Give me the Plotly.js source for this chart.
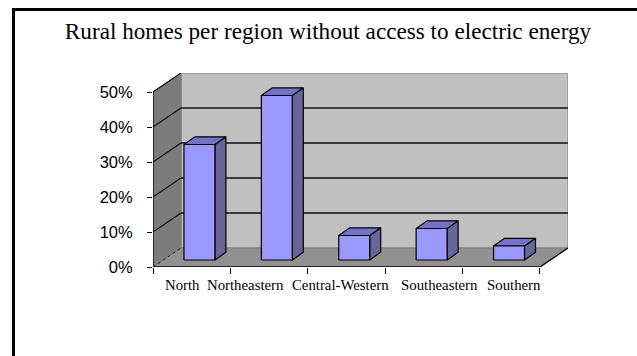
<!DOCTYPE html>
<html>
<head>
<meta charset="utf-8">
<script src="https://cdn.plot.ly/plotly-3.0.1.min.js"></script>
<style>
  html, body { margin: 0; padding: 0; background: #fff; }
  #wrap { position: relative; width: 637px; height: 356px; overflow: hidden; }
  #chart { position: absolute; left: 0; top: 0; width: 637px; height: 356px; }
  #frame { position: absolute; left: 12px; top: 8px; width: 640px; height: 360px;
           border-top: 3px solid #000; border-left: 3px solid #000; pointer-events: none; }
</style>
</head>
<body>
<div id="wrap">
  <div id="chart"></div>
  <div id="frame"></div>
</div>
<script>
// ---- data ----
const categories = ["North", "Northeastern", "Central-Western", "Southeastern", "Southern"];
const values = [33, 47, 7, 9, 4];            // percent of rural homes without electricity
const yTickValues = [0, 10, 20, 30, 40, 50];
const yTickLabels = ["0%", "10%", "20%", "30%", "40%", "50%"];
const chartTitle = "Rural homes per region without access to electric energy";

// ---- 3D projection constants (layout, in axis units) ----
const N = categories.length;
const YMAX = 50;
const DX = 0.362;   // full depth shift along x
const DY = 5.43;    // full depth shift along y
const BAR_A = 0.40; // bar front-face left offset inside category
const BAR_W = 0.40; // bar width
const BAR_B = 2.0;  // bar base lift (its depth position)
const SX = 0.142, SY = 2.2; // bar depth
const labelX = [0.375, 1.19, 2.42, 3.70, 4.66];

const traces = [];
function poly(xs, ys, fill, line, lw) {
  traces.push({
    type: "scatter", mode: "lines", x: xs.concat([xs[0]]), y: ys.concat([ys[0]]),
    fill: "toself", fillcolor: fill,
    line: { color: line, width: lw }, hoverinfo: "skip", showlegend: false
  });
}
function seg(xs, ys, color, w, dash) {
  traces.push({
    type: "scatter", mode: "lines", x: xs, y: ys,
    line: { color: color, width: w, dash: dash || "solid" }, hoverinfo: "skip", showlegend: false
  });
}

// back wall
poly([DX, N + DX, N + DX, DX], [DY, DY, YMAX + DY, YMAX + DY], "#C0C0C0", "#808080", 1);
// left wall
poly([0, DX, DX, 0], [0, DY, YMAX + DY, YMAX], "#7C7C7C", "#7C7C7C", 1);
// floor
poly([0, N, N + DX, DX], [0, 0, DY, DY], "#919191", "#808080", 1);

// gridlines on back wall + left wall diagonals
yTickValues.forEach(v => {
  if (v > 0 && v < YMAX) {
    seg([DX, N + DX], [v + DY, v + DY], "#111", 1.6);
  }
  if (v > 0) {
    seg([0, DX], [v, v + DY], "#111", 1.2);
  }
});
// edges
seg([0, DX], [0, DY], "#222", 1, "dot");
seg([0, 0], [0, YMAX], "#000", 1.3);          // front edge of left wall (value axis)
seg([0, N], [0, 0], "#000", 1.3);             // front edge of floor (category axis)
seg([N, N + DX], [0, DY], "#000", 1.3);       // right floor edge

// bars
values.forEach((v, i) => {
  const x0 = i + BAR_A, x1 = x0 + BAR_W, y0 = BAR_B, y1 = BAR_B + v;
  poly([x1, x1 + SX, x1 + SX, x1], [y0, y0 + SY, y1 + SY, y1], "#666699", "#000", 1.2);
  poly([x0, x1, x1 + SX, x0 + SX], [y1, y1, y1 + SY, y1 + SY], "#7373C8", "#000", 1.2);
  poly([x0, x1, x1, x0], [y0, y0, y1, y1], "#9999FF", "#000", 1.2);
});

const annotations = categories.map((c, i) => ({
  text: c, x: labelX[i], y: 0, xref: "x", yref: "y",
  showarrow: false, xanchor: "center", yanchor: "middle", yshift: -18,
  font: { family: "Liberation Serif, Times New Roman, serif", size: 14.8, color: "#000" }
}));

const layout = {
  width: 637, height: 356,
  margin: { l: 153, r: 69, t: 73, b: 89, pad: 0 },
  paper_bgcolor: "#fff", plot_bgcolor: "rgba(0,0,0,0)",
  showlegend: false,
  title: {
    text: chartTitle, xref: "container", yref: "container",
    x: 328 / 637, xanchor: "center", y: 1 - 31 / 356, yanchor: "middle",
    font: { family: "Liberation Serif, Times New Roman, serif", size: 23.2, color: "#000" }
  },
  xaxis: {
    range: [0, N + DX], showgrid: false, zeroline: false, showline: false,
    tickmode: "array", tickvals: [0, 1, 2, 3, 4, 5], ticktext: ["", "", "", "", "", ""],
    ticks: "outside", ticklen: 6, tickwidth: 1, tickcolor: "#000", fixedrange: true
  },
  yaxis: {
    range: [0, YMAX + DY], showgrid: false, zeroline: false, showline: false,
    tickmode: "array", tickvals: yTickValues, ticktext: yTickLabels,
    ticks: "outside", ticklen: 5, tickwidth: 1, tickcolor: "#000",
    ticklabelstandoff: 11,
    tickfont: { family: "Liberation Sans, Arial, sans-serif", size: 16.5, color: "#000" },
    fixedrange: true
  },
  annotations: annotations
};

Plotly.newPlot("chart", traces, layout, { staticPlot: true, displayModeBar: false });
</script>
</body>
</html>
